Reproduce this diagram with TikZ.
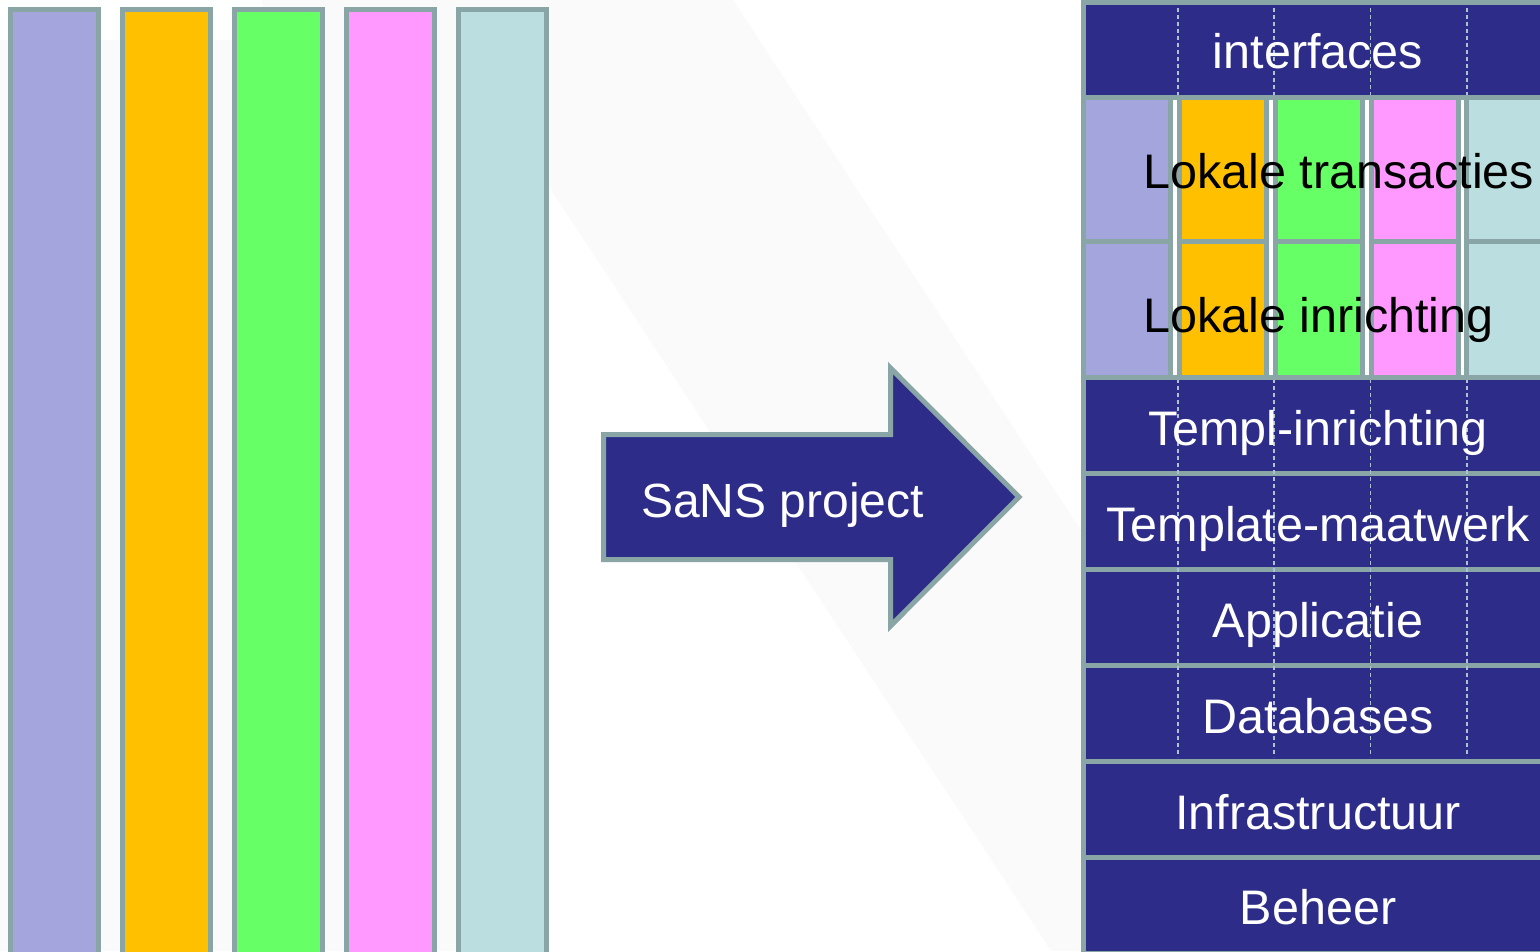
\documentclass[tikz,border=0pt]{standalone}
\usepackage{fontspec}
\setmainfont{Liberation Sans}
\definecolor{sansblue}{RGB}{45,45,137}
\definecolor{rimgray}{RGB}{138,165,166}
\definecolor{lanepurple}{RGB}{165,165,222}
\definecolor{laneorange}{RGB}{255,192,0}
\definecolor{lanegreen}{RGB}{102,255,102}
\definecolor{lanepink}{RGB}{255,153,255}
\definecolor{lanecyan}{RGB}{187,223,224}
\definecolor{faint}{RGB}{250,250,250}
\definecolor{dashgray}{RGB}{170,195,205}
\tikzset{
  lane/.style={draw=rimgray,line width=5pt},
  layer/.style={draw=rimgray,line width=5pt,fill=sansblue},
  layertext/.style={text=white,font=\fontsize{48.5}{58}\selectfont,inner sep=0pt,anchor=base},
  localtext/.style={text=black,font=\fontsize{48.5}{58}\selectfont,inner sep=0pt,anchor=base west},
  seam/.style={draw=dashgray,line width=1.2pt,dash pattern=on 4pt off 3pt}
}

\begin{document}
\begin{tikzpicture}[x=1pt,y=-1pt]
    \useasboundingbox (0,0) rectangle (1540,951);
    \clip (0,0) rectangle (1540,951);
    % faint slide background
    \fill[faint] (0,0) rectangle (1540,951);
    \fill[white] (0,0) rectangle (262,40);
    \fill[white] (549,187) -- (1051,951) -- (549,951) -- cycle;
    \fill[white] (733,0) -- (1081,0) -- (1081,530) -- cycle;
    % the separate systems
    \draw[lane,fill=lanepurple] (10.5,9.5) rectangle (98.5,960);
    \draw[lane,fill=laneorange] (122.5,9.5) rectangle (210.5,960);
    \draw[lane,fill=lanegreen] (234.5,9.5) rectangle (322.5,960);
    \draw[lane,fill=lanepink] (346.5,9.5) rectangle (434.5,960);
    \draw[lane,fill=lanecyan] (458.5,9.5) rectangle (546.5,960);
    % arrow
    \draw[lane,fill=sansblue] (603.5,434.5) -- (890.5,434.5) -- (890.5,368)
      -- (1019,497) -- (890.5,626) -- (890.5,559.5) -- (603.5,559.5) -- cycle;
    \node[layertext,anchor=base west,font=\fontsize{48}{58}\selectfont] (sans) at (641,517) {SaNS project};
    % layered stack
    \draw[layer] (1083.5,2) rectangle (1560,97.5);
    \draw[layer] (1083.5,97.5) rectangle (1560,241.5);
    \draw[layer] (1083.5,241.5) rectangle (1560,377.5);
    \draw[layer] (1083.5,377.5) rectangle (1560,473.5);
    \draw[layer] (1083.5,473.5) rectangle (1560,569.5);
    \draw[layer] (1083.5,569.5) rectangle (1560,665.5);
    \draw[layer] (1083.5,665.5) rectangle (1560,761.5);
    \draw[layer] (1083.5,761.5) rectangle (1560,857.5);
    \draw[layer] (1083.5,857.5) rectangle (1560,953.5);
    \draw[seam] (1178,8) -- (1178,757);
    \draw[seam] (1274,8) -- (1274,757);
    \draw[seam] (1370.5,8) -- (1370.5,757);
    \draw[seam] (1467,8) -- (1467,757);
    \fill[white] (1086,100) rectangle (1545,375);
    \draw[lane,fill=lanepurple] (1083.5,97.5) rectangle (1170.5,241.5);
    \draw[lane,fill=laneorange] (1179.5,97.5) rectangle (1266.5,241.5);
    \draw[lane,fill=lanegreen] (1275.5,97.5) rectangle (1362.5,241.5);
    \draw[lane,fill=lanepink] (1371.5,97.5) rectangle (1458.5,241.5);
    \draw[lane,fill=lanecyan] (1466.5,97.5) rectangle (1560,241.5);
    \draw[lane,fill=lanepurple] (1083.5,241.5) rectangle (1170.5,377.5);
    \draw[lane,fill=laneorange] (1179.5,241.5) rectangle (1266.5,377.5);
    \draw[lane,fill=lanegreen] (1275.5,241.5) rectangle (1362.5,377.5);
    \draw[lane,fill=lanepink] (1371.5,241.5) rectangle (1458.5,377.5);
    \draw[lane,fill=lanecyan] (1466.5,241.5) rectangle (1560,377.5);
    \node[layertext] (interfaces) at (1318,68) {interfaces};
    \node[localtext] (transacties) at (1143,188) {Lokale transacties};
    \node[localtext] (inrichting) at (1143,332) {Lokale inrichting};
    \node[layertext] (templ) at (1318,445) {Templ-inrichting};
    \node[layertext] (maatwerk) at (1318,541) {Template-maatwerk};
    \node[layertext] (applicatie) at (1318,637) {Applicatie};
    \node[layertext] (databases) at (1318,733) {Databases};
    \node[layertext] (infra) at (1318,829) {Infrastructuur};
    \node[layertext] (beheer) at (1318,924) {Beheer};
  \end{tikzpicture}
\end{document}
